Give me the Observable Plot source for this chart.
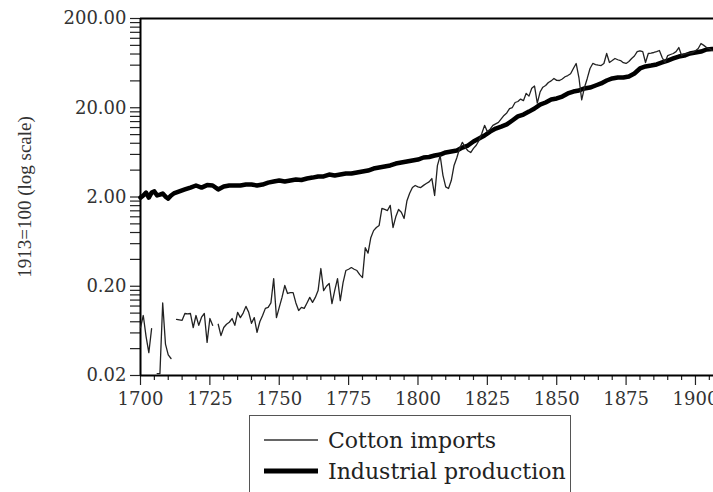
<!DOCTYPE html>
<html><head><meta charset="utf-8">
<script src="https://cdn.jsdelivr.net/npm/d3@7"></script>
<script src="https://cdn.jsdelivr.net/npm/@observablehq/plot@0.6"></script>
<style>
body{margin:0;background:#fff;font-family:"DejaVu Serif",serif;}
#legend{position:relative;margin-left:249px;margin-top:3px;width:320px;height:80px;border:1.5px solid #555;border-bottom:none;}
.row{position:absolute;left:0;height:30px;display:flex;align-items:center;font-size:22px;color:#222;white-space:nowrap;}
.row svg{margin-left:14px;margin-right:10px;}
</style></head><body>
<div id="chart"></div>
<div id="legend">
 <div class="row" style="top:9px"><svg width="54" height="10"><line x1="0" x2="54" y1="5" y2="5" stroke="#333" stroke-width="1.3"/></svg>Cotton imports</div>
 <div class="row" style="top:40px"><svg width="54" height="10"><line x1="0" x2="54" y1="5" y2="5" stroke="#000" stroke-width="5"/></svg>Industrial production</div>
</div>
<script>
// Cotton imports, 1913=100, one value per year 1700..1906 (null = missing)
const cottonStart = 1700;
const cottonValues = [
  0.069, 0.094, 0.055, 0.036, 0.067, null, 0.021, 0.021, 0.13, 0.045,       // 1700
  0.034, 0.031, null, 0.085, 0.084, 0.083, 0.099, 0.098, 0.099, 0.069,      // 1710
  0.094, 0.073, 0.090, 0.099, 0.047, 0.087, 0.073, null, 0.075, 0.056,      // 1720
  0.069, 0.075, 0.079, 0.087, 0.073, 0.102, 0.089, 0.100, 0.119, 0.102,     // 1730
  0.077, 0.089, 0.061, 0.080, 0.094, 0.113, 0.116, 0.130, 0.244, 0.089,     // 1740
  0.116, 0.150, 0.204, 0.166, 0.170, 0.170, 0.130, 0.107, 0.116, 0.113,     // 1750
  0.130, 0.150, 0.132, 0.150, 0.179, 0.316, 0.179, 0.200, 0.215, 0.128,     // 1760
  0.180, 0.244, 0.138, 0.220, 0.300, 0.310, 0.324, 0.310, 0.300, 0.270,     // 1770
  0.250, 0.540, 0.470, 0.700, 0.840, 0.910, 0.960, 1.49, 1.45, 1.41,        // 1780
  1.61, 0.91, 1.20, 1.45, 1.35, 1.15, 1.80, 2.20, 2.55, 2.69,               // 1790
  2.60, 2.55, 2.70, 2.83, 2.95, 3.22, 2.08, 4.50, 5.80, 3.50,               // 1800
  2.60, 2.49, 3.06, 4.51, 5.50, 7.00, 8.20, 7.20, 6.60, 6.30,               // 1810
  7.00, 7.60, 8.60, 10.3, 12.7, 10.8, 11.5, 12.7, 13.2, 13.7,               // 1820
  15.0, 16.4, 17.5, 19.6, 20.1, 22.9, 23.5, 25.0, 24.0, 29.0,               // 1830
  27.0, 33.0, 35.0, 22.5, 30.0, 34.0, 35.5, 38.4, 40.0, 42.6,               // 1840
  40.5, 40.4, 42.0, 44.5, 45.9, 48.0, 55.0, 62.7, 43.6, 24.5,               // 1850
  33.7, 42.6, 55.0, 62.7, 61.0, 60.0, 59.4, 62.7, 81.1, 64.3,               // 1860
  67.6, 71.3, 69.0, 67.6, 64.0, 62.7, 66.0, 71.3, 76.0, 85.0,               // 1870
  87.0, 85.0, 64.3, 81.1, 82.0, 83.2, 85.0, 87.6, 73.1, 64.3,               // 1880
  76.9, 79.0, 81.1, 85.0, 94.6, 76.9, 80.0, 81.1, 82.0, 83.2,               // 1890
  87.0, 92.2, 105, 100, 94.6, 92.2, 87.6                                    // 1900
];

// Industrial production, 1913=100
const industryYears = [
  1700, 1701, 1702, 1703, 1704, 1705, 1706, 1707, 1708, 1709, 1710, 1711, 1712, 1714, 1716, 1718,
  1720, 1722, 1724, 1726, 1728, 1730, 1732, 1734, 1736, 1738, 1740, 1742, 1744, 1746, 1748,
  1750, 1752, 1754, 1756, 1758, 1760, 1762, 1764, 1766, 1768, 1770, 1772, 1774, 1776, 1778,
  1780, 1782, 1784, 1786, 1788, 1790, 1792, 1794, 1796, 1798, 1800, 1802, 1804, 1806, 1808,
  1810, 1812, 1814, 1816, 1818, 1820, 1822, 1824, 1826, 1828, 1830, 1832, 1834, 1836, 1838,
  1840, 1842, 1844, 1846, 1848, 1850, 1852, 1854, 1856, 1858, 1860, 1862, 1864, 1866, 1868,
  1870, 1872, 1874, 1876, 1878, 1880, 1882, 1884, 1886, 1888, 1890, 1892, 1894, 1896, 1898,
  1900, 1902, 1904, 1906
];
const industryValues = [
  1.97, 2.08, 2.24, 1.97, 2.24, 2.31, 2.08, 2.13, 2.19, 2.02, 1.92, 2.08, 2.19, 2.31, 2.43, 2.55,
  2.69, 2.55, 2.72, 2.69, 2.43, 2.62, 2.69, 2.69, 2.69, 2.76, 2.76, 2.69, 2.76, 2.90, 2.98,
  3.06, 2.98, 3.06, 3.14, 3.10, 3.22, 3.30, 3.40, 3.40, 3.57, 3.48, 3.57, 3.66, 3.66, 3.76,
  3.86, 3.96, 4.17, 4.28, 4.39, 4.51, 4.74, 4.87, 5.00, 5.13, 5.26, 5.54, 5.61, 5.83, 5.98,
  6.31, 6.47, 6.64, 7.17, 7.55, 8.37, 9.04, 9.77, 10.8, 11.7, 12.3, 13.0, 14.4, 16.0, 16.8,
  18.1, 19.6, 21.7, 22.9, 24.7, 25.4, 26.7, 28.9, 30.4, 31.2, 32.9, 33.7, 35.5, 37.4, 40.4,
  42.6, 43.6, 43.6, 44.8, 48.4, 55.1, 58.0, 59.4, 61.1, 64.3, 67.6, 71.3, 75.0, 76.9, 81.1,
  83.2, 85.3, 89.9, 91.0
];

// Axis ticks
const yTickLabels = [0.02, 0.2, 2, 20, 200];
const xTickLabels = [1700, 1725, 1750, 1775, 1800, 1825, 1850, 1875, 1900];
const yMinorTicks = [];
for (const base of [0.02, 0.2, 2, 20]) for (let k = 2; k <= 9; k++) yMinorTicks.push(+(base * k).toPrecision(3));
const xMinorTicks = [];
for (let yr = 1705; yr <= 1905; yr += 5) if (yr % 25 !== 0) xMinorTicks.push(yr);

const cotton = cottonValues.map((v, i) => ({year: cottonStart + i, value: v}));
const industry = industryYears.map((yr, i) => ({year: yr, value: industryValues[i]}));

const serif = '"DejaVu Serif", serif';
const times = '"Liberation Serif", "Times New Roman", serif';
const chart = Plot.plot({
  width: 713, height: 412,
  marginLeft: 140, marginRight: 0, marginTop: 18, marginBottom: 37,
  style: {fontFamily: serif, fontSize: "18px", color: "#222", background: "#fff"},
  x: {domain: [1700, 1906.5]},
  y: {type: "log", domain: [0.02, 200]},
  marks: [
    Plot.axisY(yMinorTicks, {tickSize: 10, tickFormat: () => "", label: null, strokeWidth: 1.2}),
    Plot.axisY(yTickLabels, {tickSize: 10, tickPadding: 4, tickFormat: d3.format(".2f"), label: null, strokeWidth: 1.2, fontFamily: serif, fill: "#333"}),
    Plot.axisX(xMinorTicks, {tickSize: 5, tickFormat: () => "", label: null, strokeWidth: 1.2}),
    Plot.axisX(xTickLabels, {tickSize: 10, tickPadding: 7, tickFormat: d => String(d), label: null, strokeWidth: 1.2, fontFamily: serif, fill: "#333"}),
    Plot.text(["1913=100 (log scale)"], {frameAnchor: "left", textAnchor: "middle", dx: -116, rotate: -90, fontSize: 19, fontFamily: times, fill: "#333"}),
    Plot.ruleY([200], {strokeWidth: 2, stroke: "#000"}),
    Plot.ruleX([1700], {strokeWidth: 2, stroke: "#000"}),
    Plot.ruleY([0.02], {strokeWidth: 2, stroke: "#000"}),
    Plot.line(industry, {x: "year", y: "value", stroke: "#000", strokeWidth: 4.5}),
    Plot.line(cotton, {x: "year", y: "value", stroke: "#222", strokeWidth: 1.3})
  ]
});
document.getElementById("chart").appendChild(chart);
</script>
</body></html>
